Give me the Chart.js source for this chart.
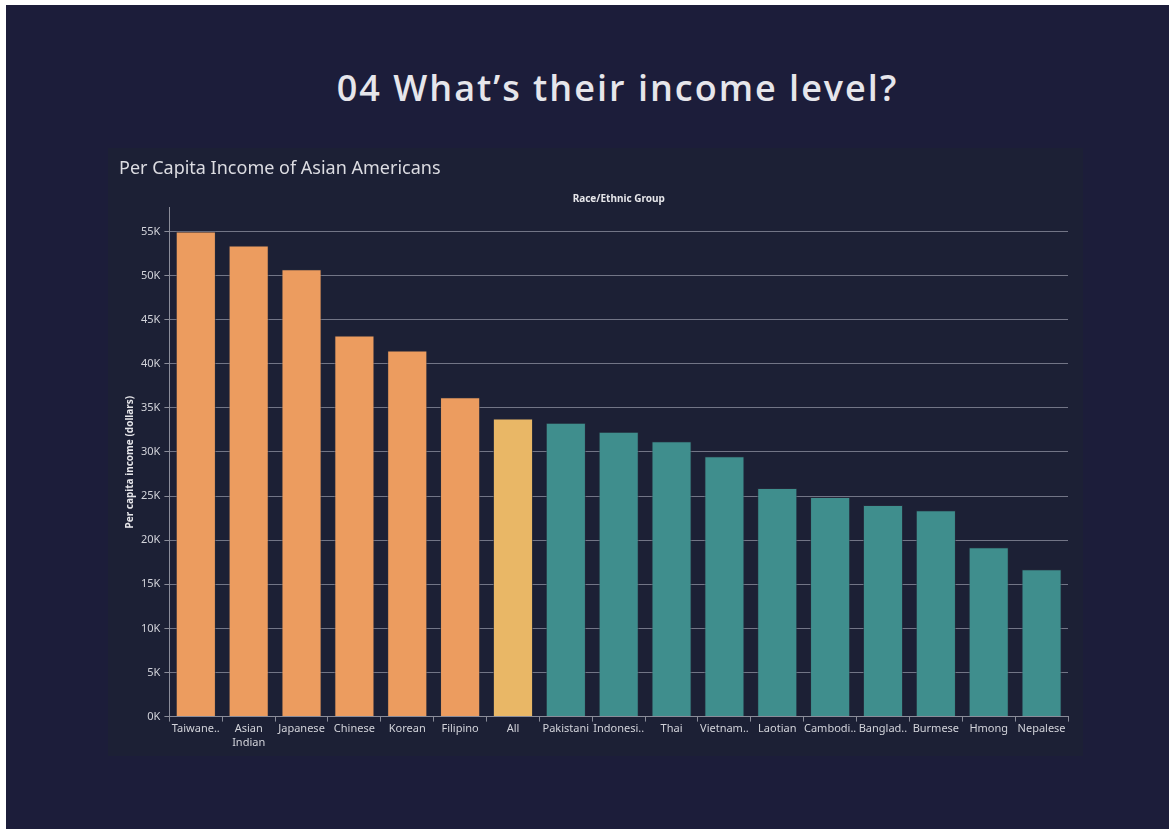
<!DOCTYPE html>
<html>
<head>
<meta charset="utf-8">
<script src="https://cdn.jsdelivr.net/npm/chart.js@4/dist/chart.umd.min.js"></script>
<style>
  html, body { margin: 0; padding: 0; background: #ffffff; }
  #page {
    position: absolute; left: 6px; top: 5px; width: 1163px; height: 824px;
    background: #1c1d3a; overflow: hidden;
  }
  h1 {
    position: absolute; left: 0; width: 1223px; top: 60px; margin: 0; line-height: 46px;
    text-align: center; font-family: "Open Sans", sans-serif; font-weight: 600;
    font-size: 36px; letter-spacing: 2px; color: #e6e6eb;
  }
  #panel {
    position: absolute; left: 102px; top: 143px; width: 975px; height: 608px;
    background: #1c2035;
  }
</style>
</head>
<body>
<div id="page">
  <h1>04 What’s their income level?</h1>
  <div id="panel"><canvas id="chart" width="975" height="608"></canvas></div>
</div>
<script>
// данные
const groups = ["Taiwane..", ["Asian", "Indian"], "Japanese", "Chinese", "Korean", "Filipino", "All",
  "Pakistani", "Indonesi..", "Thai", "Vietnam..", "Laotian", "Cambodi..", "Banglad..", "Burmese",
  "Hmong", "Nepalese"];
const incomes = [55000, 53400, 50700, 43200, 41500, 36200, 33800, 33300, 32300, 31200, 29500,
  25900, 24900, 24000, 23400, 19200, 16700];
const yTicks = [0, 5000, 10000, 15000, 20000, 25000, 30000, 35000, 40000, 45000, 50000, 55000];

// цвет по группе: выше среднего, "All", ниже среднего
function barColor(i) {
  if (groups[i] === "All") return "#e9b766";
  return incomes[i] > incomes[groups.indexOf("All")] ? "#ec9c5f" : "#3f8e8d";
}

const tickFont = { family: "Noto Sans", size: 11 };
const textColor = "#d2d3da";

const ctx = document.getElementById("chart");
new Chart(ctx, {
  type: "bar",
  data: {
    labels: groups,
    datasets: [{
      label: "Per capita income",
      data: incomes,
      backgroundColor: incomes.map((v, i) => barColor(i)),
      borderColor: "rgba(40,45,60,0.6)",
      borderWidth: 1,
      categoryPercentage: 1,
      barPercentage: 0.76,
      xAxisID: "x",
    }],
  },
  options: {
    responsive: false,
    animation: false,
    layout: { padding: { left: 11, right: 15, top: 0, bottom: 6 } },
    plugins: {
      legend: { display: false },
      tooltip: { enabled: false },
      title: {
        display: true,
        text: "Per Capita Income of Asian Americans",
        align: "start",
        color: "#dcdce2",
        font: { family: "Noto Sans", size: 18, weight: "normal" },
        padding: { top: 10, bottom: 13 },
      },
    },
    scales: {
      x: {
        type: "category",
        position: "bottom",
        grid: { drawOnChartArea: false, drawTicks: true, tickLength: 5, color: "#8a8c99" },
        border: { color: "#8a8c99" },
        ticks: { color: textColor, font: tickFont, padding: 1, maxRotation: 0, autoSkip: false },
      },
      xTop: {
        type: "category",
        position: "top",
        grid: { display: false },
        border: { display: false },
        ticks: { display: false },
        title: {
          display: true, text: "Race/Ethnic Group", color: "#e6e6ea",
          font: { family: "Noto Sans", size: 10, weight: "bold" }, padding: { top: 1, bottom: -6 },
        },
      },
      y: {
        min: 0,
        max: 57700,
        afterBuildTicks: (scale) => {
          scale.ticks = yTicks.map((v) => ({ value: v }));
        },
        grid: {
          color: "rgba(200,202,215,0.5)",
          borderDash: [1, 1],
          tickColor: "#8a8c99",
          tickBorderDash: [],
          tickLength: 5,
        },
        border: { color: "#8a8c99" },
        ticks: {
          color: textColor, font: tickFont, padding: 4,
          callback: (v) => v / 1000 + "K",
        },
        title: {
          display: true, text: "Per capita income (dollars)", color: "#e6e6ea",
          font: { family: "Noto Sans", size: 10, weight: "bold" }, padding: { top: 5, bottom: 1 },
        },
      },
    },
  },
});
</script>
</body>
</html>
